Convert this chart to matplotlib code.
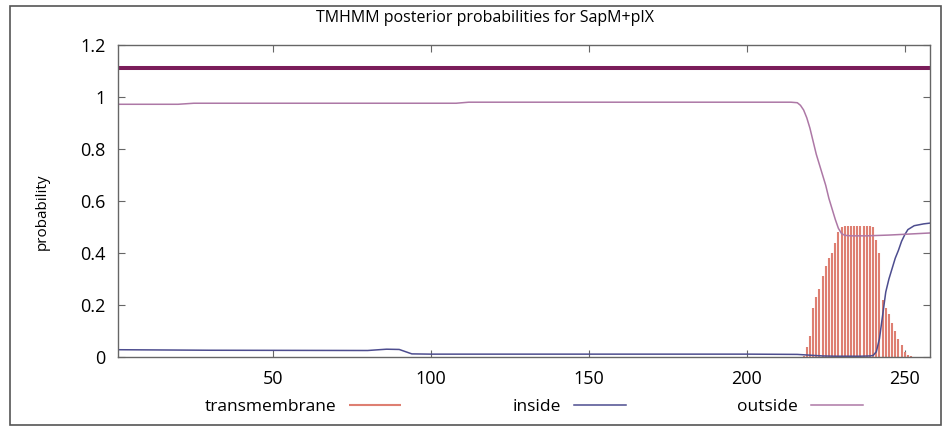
import numpy as np
import matplotlib.pyplot as plt
from matplotlib.patches import Rectangle

plt.rcParams['font.family'] = ['Open Sans', 'DejaVu Sans']

# sequence length and predicted topology line (whole protein outside)
seq_len = 258
topology_level = 1.11

# transmembrane posterior probability, per residue (drawn as impulses)
tm_pos = list(range(218, 253))
tm_prob = [0.005, 0.04, 0.08, 0.19, 0.23, 0.26, 0.31, 0.35, 0.38, 0.40,
           0.44, 0.48, 0.50, 0.505, 0.505, 0.505, 0.505, 0.505, 0.505,
           0.505, 0.505, 0.505, 0.50, 0.45, 0.40, 0.22, 0.19, 0.165, 0.13,
           0.10, 0.07, 0.045, 0.02, 0.008, 0.003]

# inside probability
inside_pos = [1, 30, 80, 86, 90, 94, 100, 150, 200, 216, 220, 224, 228, 236,
              239, 240, 241, 242, 243, 244, 245, 246, 247, 248, 249, 250, 251,
              253, 256, 258]
inside_prob = [0.028, 0.026, 0.025, 0.03, 0.029, 0.012, 0.011, 0.011, 0.011,
               0.010, 0.007, 0.004, 0.003, 0.003, 0.004, 0.006, 0.02, 0.07,
               0.16, 0.25, 0.30, 0.34, 0.38, 0.41, 0.445, 0.47, 0.49, 0.505,
               0.512, 0.515]

# outside probability
outside_pos = [1, 20, 25, 108, 112, 214, 216, 217, 218, 219, 220, 221, 222,
               223, 224, 225, 226, 227, 228, 229, 230, 231, 233, 238, 245,
               250, 258]
outside_prob = [0.972, 0.972, 0.976, 0.976, 0.98, 0.98, 0.978, 0.968, 0.95,
                0.92, 0.88, 0.83, 0.78, 0.74, 0.70, 0.66, 0.61, 0.57,
                0.53, 0.495, 0.475, 0.468, 0.466, 0.466, 0.469, 0.472, 0.477]

W, H = 948, 430
fig = plt.figure(figsize=(W / 100, H / 100), dpi=100)
ax = fig.add_axes([118 / W, 1 - 357 / H, 812 / W, 312 / H])

ax.vlines(tm_pos, 0, tm_prob, color='#de7f72', linewidth=1.5,
          label='transmembrane')
ax.plot(inside_pos, inside_prob, color='#4d4d8f', linewidth=1.1,
        label='inside')
ax.plot(outside_pos, outside_prob, color='#ad78a6', linewidth=1.1,
        label='outside')
ax.plot([1, seq_len], [topology_level, topology_level], color='#7b1d5a',
        linewidth=2.9)

ax.set_xlim(1, seq_len)
ax.set_ylim(0, 1.2)
ax.set_xticks([50, 100, 150, 200, 250])
ax.set_yticks([0, 0.2, 0.4, 0.6, 0.8, 1, 1.2])
ax.set_yticklabels(['0', '0.2', '0.4', '0.6', '0.8', '1', '1.2'])
ax.tick_params(direction='in', top=True, right=True, length=5,
               color='#666666', labelsize=13, pad=9)
for s in ax.spines.values():
    s.set_color('#666666')
    s.set_linewidth(1.0)

ax.set_ylabel('probability', fontsize=11)
ax.yaxis.set_label_coords(-0.084, 0.465)
fig.text(485 / W, 1 - 18 / H, 'TMHMM posterior probabilities for SapM+pIX',
         fontsize=11.5, ha='center', va='center')

# legend below the plot, text before the line sample
ax.legend(loc='center', bbox_to_anchor=(0.512, -0.16), ncol=3,
          frameon=False, markerfirst=False, handlelength=3.0,
          handletextpad=0.75, columnspacing=6.4, fontsize=12.5)

# outer frame
fig.patches.append(Rectangle((10 / W, 5 / H), 931 / W, 419 / H,
                             transform=fig.transFigure, fill=False,
                             edgecolor='#555555', linewidth=1.2))

fig.savefig('out.png', dpi=100)
